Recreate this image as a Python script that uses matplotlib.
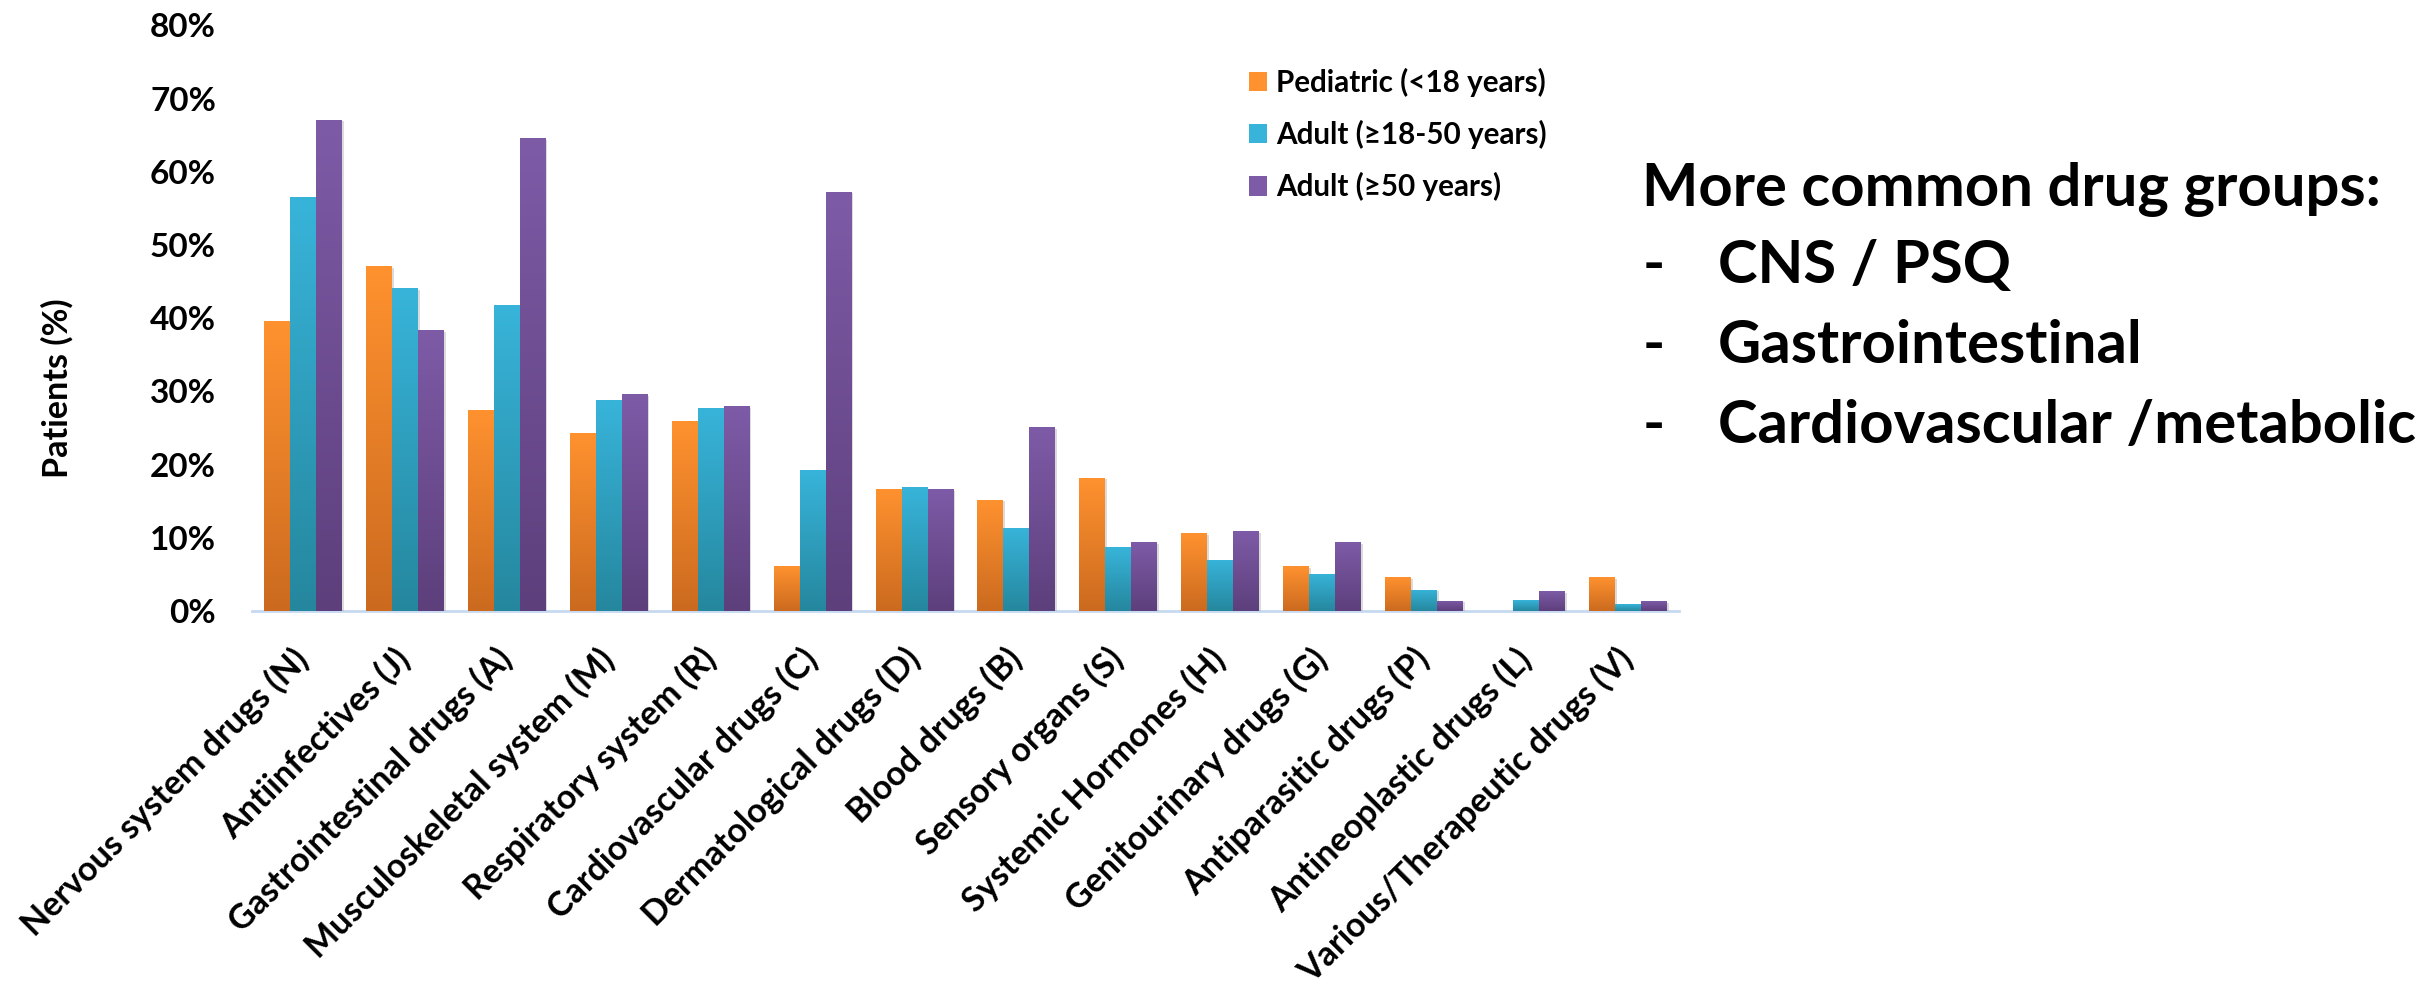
import numpy as np
import matplotlib
matplotlib.use("Agg")
import matplotlib.pyplot as plt
from matplotlib.patches import Patch
from matplotlib.ticker import PercentFormatter, FixedLocator
from matplotlib.colors import to_rgb
import matplotlib.patheffects as pe

# ATC drug groups on the x axis
categories = [
    "Nervous system drugs (N)", "Antiinfectives (J)", "Gastrointestinal drugs (A)",
    "Musculoskeletal system (M)", "Respiratory system (R)", "Cardiovascular drugs (C)",
    "Dermatological drugs (D)", "Blood drugs (B)", "Sensory organs (S)",
    "Systemic Hormones (H)", "Genitourinary drugs (G)", "Antiparasitic drugs (P)",
    "Antineoplastic drugs (L)", "Various/Therapeutic drugs (V)",
]
series_labels = ["Pediatric (<18 years)", "Adult (\u226518-50 years)", "Adult (\u226550 years)"]

# Share of patients (%) per age group
pediatric = [39.6, 47.1, 27.4, 24.3, 25.9, 6.1, 16.7, 15.2, 18.2, 10.6, 6.1, 4.6, 0.0, 4.6]
adult_18_50 = [56.6, 44.1, 41.8, 28.8, 27.7, 19.2, 16.9, 11.4, 8.7, 7.0, 5.1, 2.9, 1.5, 0.9]
adult_50_plus = [67.1, 38.4, 64.6, 29.6, 28.0, 57.3, 16.6, 25.1, 9.4, 10.9, 9.4, 1.4, 2.7, 1.3]

y_ticks = [0, 10, 20, 30, 40, 50, 60, 70, 80]

summary_title = "More common drug groups:"
summary_items = ["CNS / PSQ", "Gastrointestinal", "Cardiovascular /metabolic"]

# (top colour, bottom colour) of each series' vertical gradient
gradients = [
    ("#FF922F", "#CB6A1F"),
    ("#38B4DA", "#25879E"),
    ("#7E5BA7", "#5D3F7C"),
]

plt.rcParams['font.family'] = ['Lato', 'DejaVu Sans']
plt.rcParams['font.weight'] = 'bold'

W, H = 2436, 985
fig = plt.figure(figsize=(W / 100, H / 100), dpi=100)
ax = fig.add_axes([252 / W, 1 - 611 / H, 1427 / W, 585.6 / H])

x = np.arange(len(categories))
bar_w = 0.255
series = [pediatric, adult_18_50, adult_50_plus]


def gradient_image(top, bottom, n=256):
    t = np.linspace(0, 1, n)[:, None, None]
    c0 = np.array(to_rgb(top))[None, None, :]
    c1 = np.array(to_rgb(bottom))[None, None, :]
    return c0 * (1 - t) + c1 * t


shadow = [pe.SimplePatchShadow(offset=(1.2, -1.2), shadow_rgbFace="#9a9a9a", alpha=0.35)]

for i, (vals, (ctop, cbot)) in enumerate(zip(series, gradients)):
    bars = ax.bar(x + (i - 1) * bar_w, vals, width=bar_w, facecolor="none",
                  edgecolor="none", zorder=2)
    grad = gradient_image(ctop, cbot)
    for rect in bars:
        h = rect.get_height()
        if h <= 0:
            continue
        rect.set_path_effects(shadow)
        x0 = rect.get_x()
        im = ax.imshow(grad, extent=[x0, x0 + rect.get_width(), 0, h], origin="upper",
                       aspect="auto", interpolation="bilinear", zorder=3)
        im.set_clip_path(rect)

ax.set_xlim(-0.5, len(categories) - 0.5)
ax.set_ylim(0, 80)

for s in ["top", "right", "left"]:
    ax.spines[s].set_visible(False)
ax.spines["bottom"].set_color("#C6D9F1")
ax.spines["bottom"].set_linewidth(2.0)
ax.spines["bottom"].set_zorder(1)

ax.yaxis.set_major_locator(FixedLocator(y_ticks))
ax.yaxis.set_major_formatter(PercentFormatter(100, decimals=0))
ax.tick_params(axis="y", length=0, pad=26, labelsize=24)
ax.tick_params(axis="x", length=0, pad=31, labelsize=24.5)
ax.set_xticks(x)
ax.set_xticklabels(categories, rotation=45, ha="right", va="center",
                   rotation_mode="anchor")

fig.text(57 / W, 1 - 388 / H, "Patients (%)", rotation=90, ha="center", va="center",
         fontsize=24.5, fontweight="bold")

handles = [Patch(facecolor=c[0], edgecolor="none") for c in gradients]
leg = fig.legend(handles, series_labels, loc="upper left",
                 bbox_to_anchor=(1249 / W, 1 - 68 / H), frameon=False, fontsize=21.3,
                 handlelength=0.62, handleheight=0.62, handletextpad=0.3,
                 labelspacing=0.78, borderpad=0, borderaxespad=0)

fig.text(1642 / W, 1 - 206 / H, summary_title, fontsize=43, fontweight="bold",
         ha="left", va="baseline")
for k, item in enumerate(summary_items):
    yb = 1 - (283 + 80 * k) / H
    fig.text(1643 / W, yb, "-", fontsize=43, fontweight="bold", ha="left", va="baseline")
    fig.text(1718 / W, yb, item, fontsize=43, fontweight="bold", ha="left", va="baseline")

fig.savefig("out.png", dpi=100)
